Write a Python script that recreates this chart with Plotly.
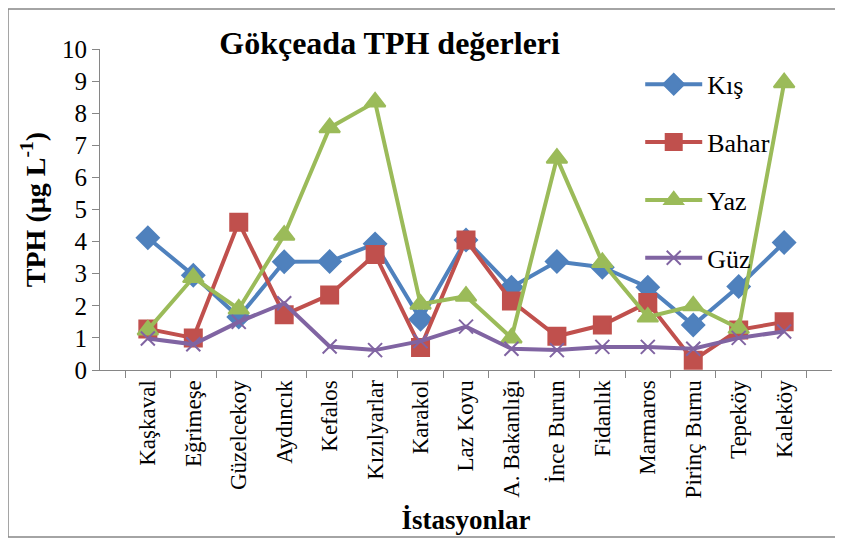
import plotly.graph_objects as go

stations = ["Kaşkaval", "Eğrimeşe", "Güzelcekoy", "Aydıncık", "Kefalos", "Kızılyarlar",
            "Karakol", "Laz Koyu", "A. Bakanlığı", "İnce Burun", "Fidanlık", "Marmaros",
            "Pirinç Burnu", "Tepeköy", "Kaleköy"]
kis = [4.12, 2.95, 1.65, 3.37, 3.38, 3.93, 1.58, 4.05, 2.58, 3.38, 3.2, 2.58, 1.4, 2.6, 3.97]
bahar = [1.28, 1.0, 4.6, 1.72, 2.34, 3.6, 0.7, 4.05, 2.15, 1.05, 1.4, 2.1, 0.3, 1.25, 1.5]
yaz = [1.25, 2.88, 1.9, 4.2, 7.55, 8.35, 2.05, 2.3, 1.0, 6.6, 3.35, 1.65, 2.0, 1.3, 8.95]
guz = [0.98, 0.8, 1.5, 2.08, 0.73, 0.62, 0.9, 1.35, 0.66, 0.62, 0.72, 0.72, 0.66, 1.0, 1.2]

series = [
    ("Kış", kis, "#4F81BD", "diamond", 17),
    ("Bahar", bahar, "#C0504D", "square", 17),
    ("Yaz", yaz, "#9BBB59", "triangle-up", 18),
    ("Güz", guz, "#8064A2", "x-thin", 14),
]

FONT = "Times New Roman, serif"
fig = go.Figure()
for i, (name, vals, col, sym, sz) in enumerate(series):
    fig.add_trace(go.Scatter(
        x=stations, y=vals, name=name, mode="lines+markers",
        legendgroup=f"g{i}",
        line=dict(color=col, width=4),
        marker=dict(symbol=sym, size=sz, color=col,
                    line=dict(color=col, width=2)),
    ))

fig.update_layout(
    width=835, height=531,
    margin=dict(l=92, r=11, t=41, b=169),
    paper_bgcolor="white", plot_bgcolor="white",
    font=dict(family=FONT, color="black"),
    title=dict(text="<b>Gökçeada TPH değerleri</b>", x=0.457, xanchor="center",
               y=0.934, yanchor="middle", font=dict(size=32, family=FONT)),
    legend=dict(x=0.738, y=0.963, xanchor="left", yanchor="top",
                font=dict(size=26, family=FONT), tracegroupgap=21,
                bgcolor="rgba(0,0,0,0)", itemwidth=57),
    showlegend=True,
)
fig.update_xaxes(
    type="category", tickson="boundaries", ticks="outside", ticklen=7,
    tickcolor="#868686", showline=True, linecolor="#868686", linewidth=1,
    tickangle=-90, tickfont=dict(size=23, family=FONT), showgrid=False,
    title=dict(text="<b>İstasyonlar</b>", font=dict(size=27, family=FONT), standoff=12),
)
fig.update_yaxes(
    range=[0, 10], dtick=1, ticks="outside", ticklen=7, tickcolor="#868686",
    showline=True, linecolor="#868686", linewidth=1, showgrid=False, zeroline=False,
    tickfont=dict(size=25, family=FONT),
    title=dict(text="<b>TPH (µg L<sup>-1</sup>)</b>", font=dict(size=28, family=FONT), standoff=8),
)
fig.add_shape(type="rect", xref="paper", yref="paper",
              x0=-0.1257, x1=1.011, y0=-0.52, y1=1.1246,
              line=dict(color="#868686", width=1.5), fillcolor="rgba(0,0,0,0)")
fig.write_html("out.html")
